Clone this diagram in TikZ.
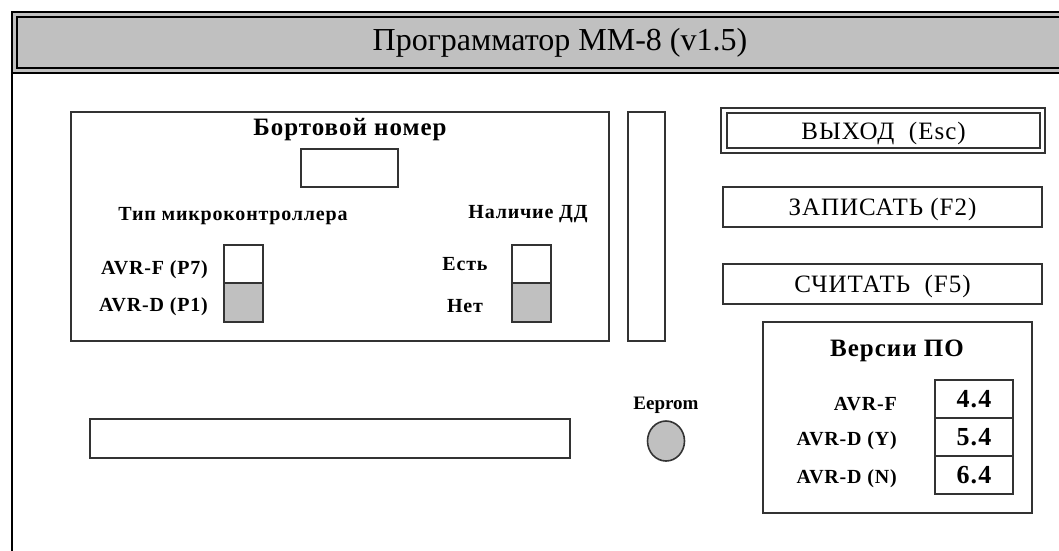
\documentclass[tikz,border=0pt]{standalone}
\usepackage{fontspec}
\usetikzlibrary{shapes.geometric}
\setmainfont{Liberation Serif}
\newfontfamily\spacedserif{Liberation Serif}[LetterSpace=4]
\newfontfamily\btnserif{Liberation Serif}[LetterSpace=4]
\definecolor{panelgray}{RGB}{192,192,192}
\begin{document}
\begin{tikzpicture}[x=1pt,y=-1pt,
  box/.style={draw=black!80, line width=1.6pt, inner sep=0pt, outer sep=0pt,
    anchor=north west, fill=white},
  lbl/.style={font=\spacedserif\bfseries\fontsize{20}{22}\selectfont, inner sep=0pt},
  head/.style={font=\spacedserif\bfseries\fontsize{25}{28}\selectfont, inner sep=0pt},
  btn/.style={box, text depth=0pt, font=\btnserif\fontsize{25}{28}\selectfont},
  cell/.style={box, minimum width=78pt, minimum height=38pt,
    font=\spacedserif\bfseries\fontsize{26}{28}\selectfont},
  switchup/.style={box, minimum width=39pt, minimum height=38pt},
  switchdn/.style={box, minimum width=39pt, minimum height=39pt, fill=panelgray}]
\useasboundingbox (0,0) rectangle (1059,550);

% window frame with its title bar
\fill[panelgray] (12,12) rectangle (1062,73);
\draw[line width=2.2pt] (1062,12) -- (12,12) -- (12,552);
\draw[line width=2.2pt] (12,73) -- (1062,73);
\draw[line width=1.6pt] (1062,17) -- (17,17) -- (17,68) -- (1062,68);
\node[font=\fontsize{32}{36}\selectfont, inner sep=0pt] (title) at (560,43) {Программатор ММ-8 (v1.5)};

% board number and controller settings
\node[box, minimum width=538pt, minimum height=229pt] (board) at (71,112) {};
\node[head] (boardlbl) at (350,130) {Бортовой номер};
\node[box, minimum width=97pt, minimum height=38pt] (boardnum) at (301,149) {};
\node[lbl] (mcu) at (233,216) {Тип микроконтроллера};
\node[lbl] (dd) at (528,214) {Наличие ДД};
\node[switchup] (mcuF) at (224,245) {};
\node[switchdn] (mcuD) at (224,283) {};
\node[lbl, anchor=east] (lblF) at (208,270) {AVR-F (P7)};
\node[lbl, anchor=east] (lblD) at (208,307) {AVR-D (P1)};
\node[switchup] (ddYes) at (512,245) {};
\node[switchdn] (ddNo) at (512,283) {};
\node[lbl] (lblYes) at (465,264) {Есть};
\node[lbl] (lblNo) at (465,306) {Нет};

% progress bars
\node[box, minimum width=37pt, minimum height=229pt] (vbar) at (628,112) {};
\node[box, minimum width=480pt, minimum height=39pt] (hbar) at (90,419) {};

% eeprom indicator
\node[lbl, font=\bfseries\fontsize{19}{21}\selectfont] (eeprom) at (666,405) {Eeprom};
\node[draw=black!80, line width=1.6pt, fill=panelgray, ellipse, minimum width=37pt,
  minimum height=40pt, inner sep=0pt] (led) at (666,441) {};

% command buttons
\node[box, minimum width=324pt, minimum height=45pt, line width=2pt] (exitframe) at (721,108) {};
\node[btn, minimum width=313pt, minimum height=35pt] (exit) at (727,113) {ВЫХОД\ \ (Esc)};
\node[btn, minimum width=319pt, minimum height=40pt] (write) at (723,187) {ЗАПИСАТЬ (F2)};
\node[btn, minimum width=319pt, minimum height=40pt] (read) at (723,264) {СЧИТАТЬ\ \ (F5)};

% firmware versions
\node[box, minimum width=269pt, minimum height=191pt] (versions) at (763,322) {};
\node[head] (verlbl) at (897,351) {Версии ПО};
\node[cell] (vF) at (935,380) {4.4};
\node[cell] (vDY) at (935,418) {5.4};
\node[cell] (vDN) at (935,456) {6.4};
\node[lbl, anchor=east] (lvF) at (897,404) {AVR-F};
\node[lbl, anchor=east] (lvDY) at (897,441) {AVR-D (Y)};
\node[lbl, anchor=east] (lvDN) at (897,479) {AVR-D (N)};
\end{tikzpicture}
\end{document}
